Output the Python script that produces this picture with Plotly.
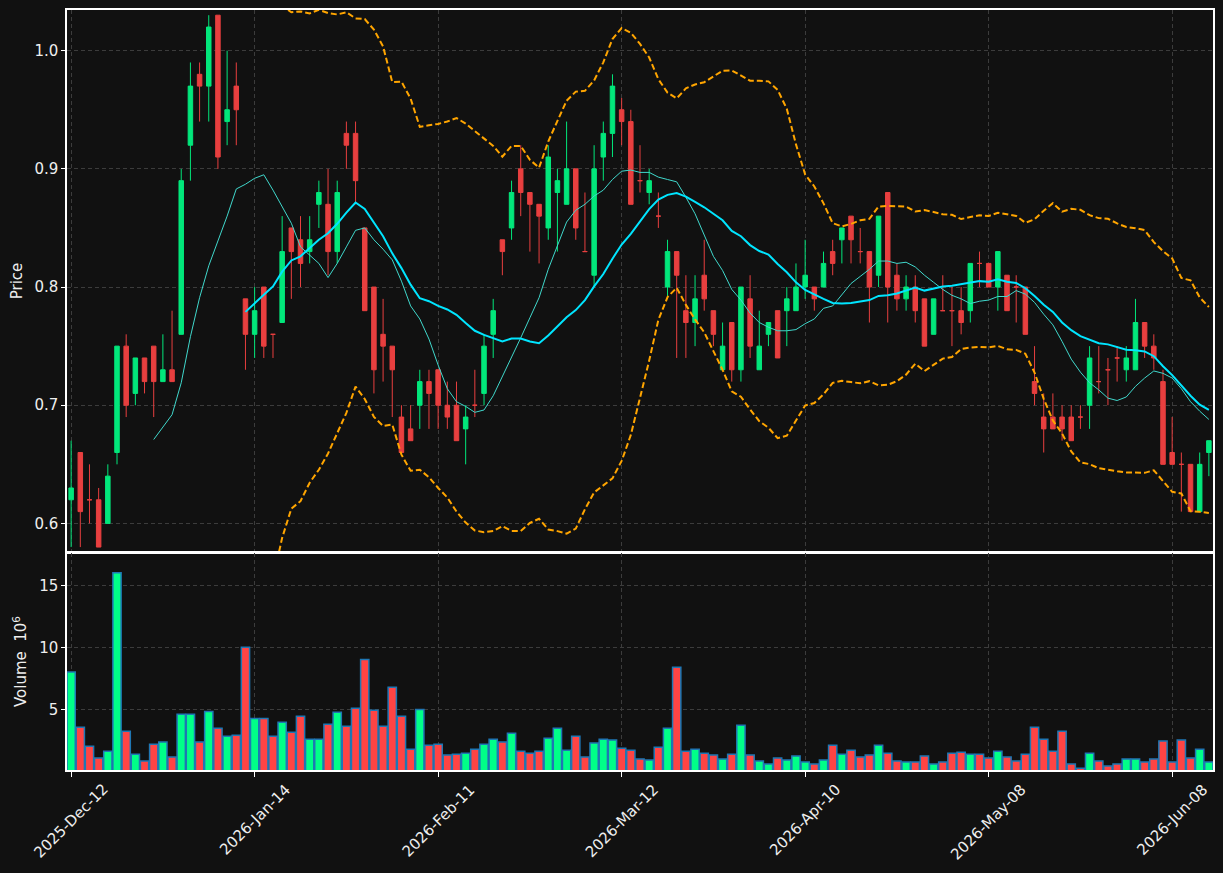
import plotly.graph_objects as go
import pandas as pd

# ---------------- data ----------------
tick_positions = [0, 20, 40, 60, 80, 100, 120]
tick_labels = ["2025-Dec-12", "2026-Jan-14", "2026-Feb-11", "2026-Mar-12",
               "2026-Apr-10", "2026-May-08", "2026-Jun-08"]

opens = [.62, .66, .62, .62, .60, .66, .75, .71, .74, .75,
         .72, .73, .76, .92, .98, .97, 1.03, .94, .97, .79,
         .76, .80, .76, .77, .85, .84, .83, .87, .87, .83,
         .93, .93, .85, .80, .76, .75, .69, .68, .70, .72,
         .73, .70, .70, .68, .70, .71, .76, .84, .85, .90,
         .88, .87, .85, .88, .87, .90, .83, .81, .91, .93,
         .95, .94, .89, .88, .86, .80, .83, .78, .77, .81,
         .78, .73, .77, .73, .79, .73, .76, .78, .78, .78,
         .80, .80, .80, .83, .84, .86, .83, .83, .81, .88,
         .81, .79, .80, .79, .76, .78, .78, .78, .78, .82,
         .82, .80, .81, .80, .80, .72, .69, .69, .69, .69,
         .69, .70, .72, .73, .74, .73, .73, .77, .75, .72,
         .66, .65, .65, .61, .66]
highs = [.67, .66, .65, .63, .65, .75, .76, .74, .74, .75,
         .76, .78, .90, .99, .99, 1.03, 1.03, 1.00, .99, .79,
         .80, .80, .76, .86, .85, .86, .86, .89, .90, .89,
         .94, .94, .85, .80, .79, .75, .70, .70, .73, .73,
         .73, .72, .72, .70, .73, .76, .79, .84, .89, .92,
         .88, .87, .92, .90, .94, .90, .88, .92, .94, .98,
         .96, .95, .92, .90, .88, .84, .83, .81, .81, .84,
         .78, .77, .77, .80, .81, .78, .77, .78, .80, .82,
         .84, .80, .83, .84, .85, .86, .85, .83, .86, .88,
         .82, .81, .81, .79, .79, .81, .80, .80, .82, .83,
         .82, .83, .81, .81, .80, .75, .71, .71, .70, .70,
         .70, .75, .75, .74, .75, .75, .79, .77, .76, .73,
         .69, .66, .65, .66, .67]
lows = [.58, .58, .60, .58, .60, .65, .69, .70, .71, .69,
        .72, .72, .76, .89, .94, .94, .90, .92, .92, .73,
        .74, .74, .74, .77, .79, .80, .82, .85, .81, .82,
        .90, .87, .78, .71, .72, .69, .66, .67, .68, .68,
        .68, .68, .67, .65, .69, .70, .74, .81, .84, .86,
        .83, .82, .84, .83, .87, .84, .83, .80, .89, .91,
        .92, .87, .88, .87, .85, .79, .74, .74, .75, .78,
        .75, .73, .72, .72, .74, .73, .75, .74, .75, .78,
        .79, .78, .80, .81, .82, .82, .82, .77, .80, .77,
        .78, .78, .77, .75, .76, .78, .75, .76, .77, .80,
        .80, .78, .78, .77, .76, .70, .66, .68, .67, .67,
        .68, .68, .71, .70, .72, .72, .73, .74, .73, .65,
        .65, .61, .61, .61, .64]
closes = [.63, .61, .62, .58, .64, .75, .70, .74, .72, .72,
          .73, .72, .89, .97, .97, 1.02, .91, .95, .95, .76,
          .78, .75, .76, .83, .83, .82, .84, .88, .83, .88,
          .92, .89, .78, .73, .75, .73, .66, .67, .72, .71,
          .70, .69, .67, .69, .70, .75, .78, .83, .88, .88,
          .87, .86, .91, .89, .90, .85, .83, .90, .93, .97,
          .94, .87, .89, .89, .86, .83, .81, .77, .79, .79,
          .76, .75, .73, .80, .75, .75, .77, .74, .79, .80,
          .81, .79, .82, .82, .85, .84, .83, .80, .86, .80,
          .79, .80, .78, .75, .79, .78, .78, .77, .82, .82,
          .80, .83, .78, .80, .76, .71, .68, .68, .68, .67,
          .69, .74, .72, .73, .74, .74, .77, .75, .74, .65,
          .65, .65, .61, .65, .67]
volume_millions = [8.0, 3.55, 2.02, 1.06, 1.62, 16.0, 3.23, 1.38, 0.82, 2.18,
                   2.35, 1.14, 4.60, 4.60, 2.35, 4.81, 3.47, 2.83, 2.91, 10.0,
                   4.25, 4.25, 2.83, 3.95, 3.15, 4.44, 2.59, 2.59, 3.79, 4.76,
                   3.63, 5.08, 9.02, 4.92, 3.63, 6.77, 4.44, 1.78, 4.97, 2.10,
                   2.18, 1.30, 1.38, 1.46, 1.78, 2.18, 2.59, 2.35, 3.07, 1.62,
                   1.46, 1.62, 2.67, 3.47, 1.70, 2.83, 1.14, 2.27, 2.59, 2.51,
                   1.86, 1.70, 0.98, 0.90, 1.94, 3.47, 8.38, 1.62, 1.78, 1.46,
                   1.30, 0.98, 1.38, 3.71, 1.30, 0.82, 0.58, 1.06, 0.90, 1.22,
                   0.74, 0.58, 0.90, 2.10, 1.38, 1.70, 1.14, 1.30, 2.10, 1.46,
                   0.82, 0.74, 0.74, 1.22, 0.58, 0.74, 1.46, 1.54, 1.38, 1.38,
                   1.06, 1.62, 1.14, 0.82, 1.38, 3.55, 2.59, 1.62, 3.23, 0.58,
                   0.25, 1.46, 0.82, 0.42, 0.58, 0.98, 0.98, 0.74, 0.98, 2.43,
                   0.74, 2.51, 1.06, 1.78, 0.74]

# ---------------- derived indicators ----------------
idx = list(range(len(closes)))
cs = pd.Series(closes)
ma10 = cs.rolling(10).mean()
ma20 = cs.rolling(20).mean()
sd20 = cs.rolling(20).std()
bb_up = ma20 + 2 * sd20
bb_lo = ma20 - 2 * sd20

UP = "#02e77b"
DOWN = "#e83f3f"
UP_V = "#00ff88"
DOWN_V = "#ff4444"
BG = "#111111"
GRID = "#3c3c3c"
TXT = "#eeeeee"
FS = 15

up = [c > o for o, c in zip(opens, closes)]

fig = go.Figure()

for flag, col in ((True, UP), (False, DOWN)):
    sel = [i for i in idx if up[i] == flag]
    fig.add_trace(go.Candlestick(
        x=sel,
        open=[opens[i] for i in sel], high=[highs[i] for i in sel],
        low=[lows[i] for i in sel], close=[closes[i] for i in sel],
        increasing=dict(line=dict(color=col, width=1), fillcolor=col),
        decreasing=dict(line=dict(color=col, width=1), fillcolor=col),
        whiskerwidth=0, showlegend=False, xaxis="x", yaxis="y"))

fig.add_trace(go.Scatter(x=idx, y=ma10, mode="lines",
                         line=dict(color="#40d8cc", width=1),
                         showlegend=False, xaxis="x", yaxis="y"))
fig.add_trace(go.Scatter(x=idx, y=ma20, mode="lines",
                         line=dict(color="#00e5ff", width=2),
                         showlegend=False, xaxis="x", yaxis="y"))
for band in (bb_up, bb_lo):
    fig.add_trace(go.Scatter(x=idx, y=band, mode="lines",
                             line=dict(color="#ffa500", width=2, dash="6px,3px"),
                             showlegend=False, xaxis="x", yaxis="y"))

fig.add_trace(go.Bar(x=idx, y=volume_millions, width=0.9,
                     marker=dict(color=[UP_V if u else DOWN_V for u in up],
                                 line=dict(color="#1f77b4", width=1.5)),
                     showlegend=False, xaxis="x2", yaxis="y2"))

axis_common = dict(showline=True, mirror=True, linecolor="#ffffff", linewidth=1.5,
                   showgrid=True, gridcolor=GRID, griddash="4px,3px", gridwidth=1,
                   zeroline=False, tickfont=dict(size=FS, color=TXT),
                   tickcolor="#ffffff", automargin=False)

# rotated date labels, centred under each tick (matplotlib style)
annotations = [dict(x=p, y=0, xref="x2", yref="paper", text=t, textangle=-45,
                    showarrow=False, xanchor="center", yanchor="top", yshift=-8,
                    font=dict(size=FS, color=TXT, family="DejaVu Sans"))
               for p, t in zip(tick_positions, tick_labels)]

fig.update_layout(
    width=1223, height=873,
    margin=dict(l=67, r=10, t=10, b=103),
    paper_bgcolor=BG, plot_bgcolor=BG,
    font=dict(family="DejaVu Sans", size=FS, color=TXT),
    bargap=0.1,
    annotations=annotations,
    xaxis=dict(domain=[0, 1], anchor="y", range=[-0.45, 124.45],
               tickvals=tick_positions, showticklabels=False, ticks="",
               rangeslider=dict(visible=False), **axis_common),
    yaxis=dict(domain=[0.2868, 1], anchor="x", range=[0.5758, 1.0344],
               tickvals=[0.6, 0.7, 0.8, 0.9, 1.0],
               ticktext=["0.6", "0.7", "0.8", "0.9", "1.0"],
               ticks="outside", ticklen=4,
               title=dict(text="Price", font=dict(size=FS, color=TXT), standoff=8),
               **axis_common),
    xaxis2=dict(domain=[0, 1], anchor="y2", matches="x", range=[-0.45, 124.45],
                tickvals=tick_positions, showticklabels=False,
                ticks="outside", ticklen=5, **axis_common),
    yaxis2=dict(domain=[0, 0.2855], anchor="x2", range=[0.1, 17.6],
                tickvals=[5, 10, 15], ticks="outside", ticklen=4,
                title=dict(text="Volume  10<sup>6</sup>", font=dict(size=FS, color=TXT),
                           standoff=9),
                **axis_common),
)

fig.write_html("out.html")
